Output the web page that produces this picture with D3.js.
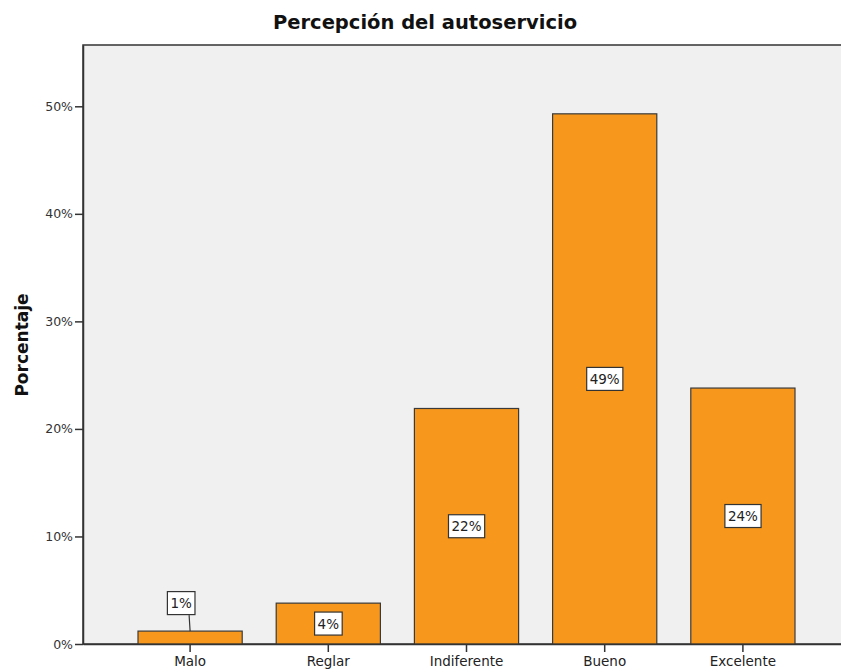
<!DOCTYPE html>
<html>
<head>
<meta charset="utf-8">
<script src="https://cdn.jsdelivr.net/npm/d3@7/dist/d3.min.js"></script>
<style>
  html, body { margin: 0; padding: 0; background: #fff; }
  svg { display: block; }
</style>
</head>
<body>
<svg id="chart" width="841" height="672"></svg>
<script>
// Survey result: perception of self-service, percentage per answer
const categories = ["Malo", "Reglar", "Indiferente", "Bueno", "Excelente"];
const percentages = [1.2, 3.8, 21.9, 49.3, 23.8];
const yTicks = [0, 10, 20, 30, 40, 50];

const plot = { left: 83, top: 45, right: 850, bottom: 644 };
const font = "'DejaVu Sans', Verdana, sans-serif";

const svg = d3.select("#chart");

const x = d3.scaleBand()
  .domain(categories)
  .range([plot.left, plot.right])
  .paddingInner(0.246)
  .paddingOuter(0.398);

const y = d3.scaleLinear()
  .domain([0, 55.7])
  .range([plot.bottom, plot.top]);

// plot background and frame
svg.append("rect")
  .attr("x", plot.left).attr("y", plot.top)
  .attr("width", plot.right - plot.left).attr("height", plot.bottom - plot.top)
  .attr("fill", "#f0f0f0")
  .attr("stroke", "#333").attr("stroke-width", 1.5);

// title
svg.append("text")
  .attr("x", 425).attr("y", 29)
  .attr("text-anchor", "middle")
  .attr("font-family", font).attr("font-weight", "bold").attr("font-size", 19.5)
  .attr("fill", "#111")
  .text("Percepción del autoservicio");

// y axis title
svg.append("text")
  .attr("transform", "translate(28,345) rotate(-90)")
  .attr("text-anchor", "middle")
  .attr("font-family", font).attr("font-weight", "bold").attr("font-size", 17)
  .attr("fill", "#111")
  .text("Porcentaje");

// bars
svg.append("g").selectAll("rect")
  .data(categories)
  .join("rect")
  .attr("x", d => x(d))
  .attr("y", (d, i) => y(percentages[i]))
  .attr("width", x.bandwidth())
  .attr("height", (d, i) => y(0) - y(percentages[i]))
  .attr("fill", "#f7981d")
  .attr("stroke", "#3a3a3a").attr("stroke-width", 1.2);

// y axis
const yAxis = svg.append("g")
  .attr("transform", `translate(${plot.left},0)`)
  .call(d3.axisLeft(y).tickValues(yTicks).tickFormat(d => d + "%")
    .tickSizeInner(8).tickSizeOuter(0).tickPadding(2));
yAxis.select(".domain").attr("stroke", "#333").attr("stroke-width", 1.5);
yAxis.selectAll(".tick line").attr("stroke", "#333").attr("stroke-width", 1.5);
yAxis.selectAll(".tick text")
  .attr("font-family", font).attr("font-size", 12.5).attr("fill", "#333");

// x axis
const xAxis = svg.append("g")
  .attr("transform", `translate(0,${plot.bottom})`)
  .call(d3.axisBottom(x).tickSizeInner(8).tickSizeOuter(0).tickPadding(4));
xAxis.select(".domain").attr("stroke", "#333").attr("stroke-width", 1.5);
xAxis.selectAll(".tick line").attr("stroke", "#333").attr("stroke-width", 1.5);
xAxis.selectAll(".tick text")
  .attr("font-family", font).attr("font-size", 13.5).attr("fill", "#222");

// value labels (boxed); the smallest bar gets its label lifted above with a leader line
const fmt = v => Math.round(v) + "%";
const labels = svg.append("g");
categories.forEach((c, i) => {
  const v = percentages[i];
  const cx = x(c) + x.bandwidth() / 2;
  const mid = (y(0) + y(v)) / 2;
  const lifted = (y(0) - y(v)) < 24;
  const cy = lifted ? y(v) - 28 : mid;
  const lx = lifted ? cx - 9 : cx;
  const g = labels.append("g");
  if (lifted) {
    g.append("line")
      .attr("x1", cx - 1).attr("y1", cy + 12)
      .attr("x2", cx).attr("y2", y(v))
      .attr("stroke", "#333").attr("stroke-width", 1.2);
  }
  const t = g.append("text")
    .attr("x", lx).attr("y", cy)
    .attr("text-anchor", "middle")
    .attr("dominant-baseline", "central")
    .attr("font-family", font).attr("font-size", 13.5).attr("fill", "#222")
    .text(fmt(v));
  const bb = t.node().getBBox();
  g.insert("rect", "text")
    .attr("x", bb.x - 3).attr("y", cy - 11.5)
    .attr("width", bb.width + 6).attr("height", 23)
    .attr("fill", "#fff").attr("stroke", "#333").attr("stroke-width", 1.2);
});
</script>
</body>
</html>
